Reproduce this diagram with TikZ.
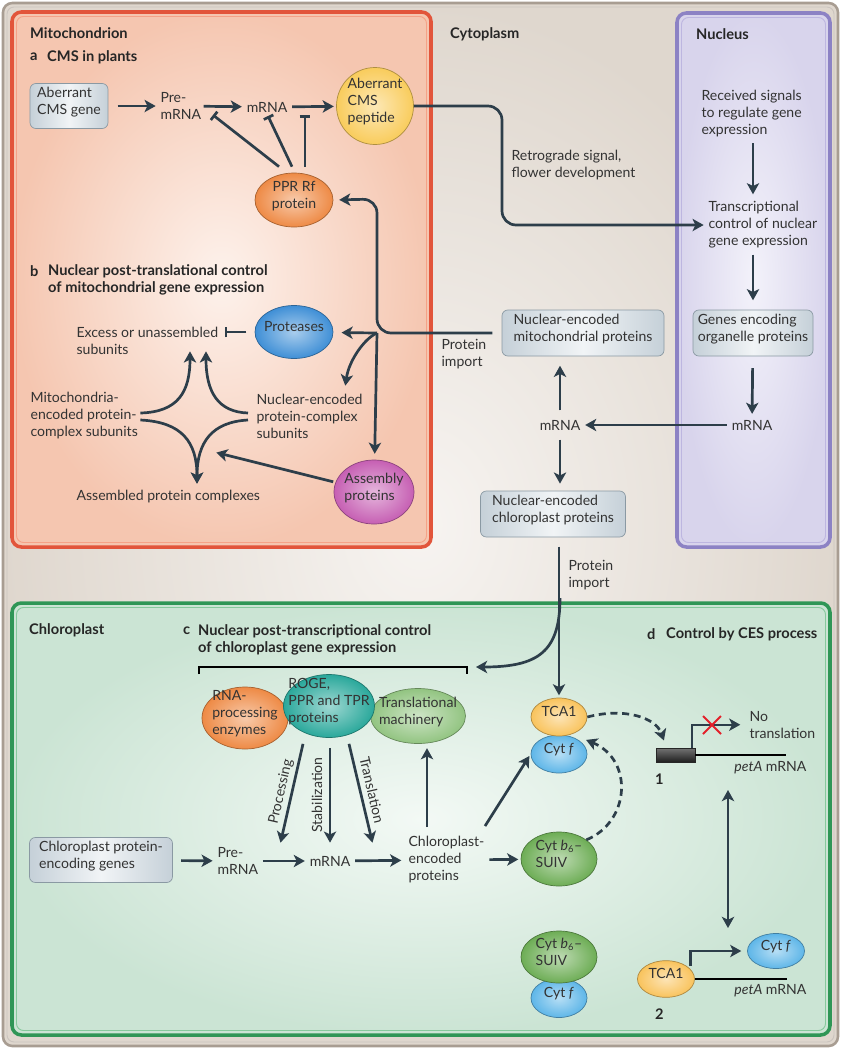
\documentclass[tikz,border=0pt]{standalone}
\usepackage{fontspec}
\setmainfont{Lato}
\usetikzlibrary{arrows.meta,shapes.geometric,calc}
\definecolor{txt}{HTML}{333333}
\definecolor{arrc}{HTML}{2D3E4A}
\definecolor{cytoin}{HTML}{F7F4F1}
\definecolor{cytoout}{HTML}{DFD7CE}
\definecolor{cytob}{HTML}{A89D92}
\definecolor{mitoin}{HTML}{FDF2EC}
\definecolor{mitoout}{HTML}{F5C6B0}
\definecolor{mitob}{HTML}{E2553B}
\definecolor{mitol}{HTML}{F5A287}
\definecolor{nucin}{HTML}{F3F2FA}
\definecolor{nucout}{HTML}{D8D4EC}
\definecolor{nucb}{HTML}{8C82C4}
\definecolor{nucl}{HTML}{BDB6E0}
\definecolor{chlin}{HTML}{F3F9F5}
\definecolor{chlout}{HTML}{CBE4D4}
\definecolor{chlb}{HTML}{2F9656}
\definecolor{chll}{HTML}{86C99C}
\definecolor{boxc}{HTML}{C5D0D8}
\definecolor{boxl}{HTML}{F1F4F6}
\definecolor{boxb}{HTML}{8A99A3}
\definecolor{pepc}{HTML}{F9CC5C}
\definecolor{pprc}{HTML}{EE8A45}
\definecolor{protc}{HTML}{3F8FD6}
\definecolor{asmc}{HTML}{C65FB3}
\definecolor{rnac}{HTML}{EE8A45}
\definecolor{rogec}{HTML}{2AA89B}
\definecolor{trmc}{HTML}{92C481}
\definecolor{tcac}{HTML}{F9C35C}
\definecolor{cytfc}{HTML}{5EB6E8}
\definecolor{b6c}{HTML}{6DAD55}
\definecolor{xred}{HTML}{E3202A}
\newcommand\ctext[1]{\makebox[0pt]{\smash{\begin{tabular}{@{}l@{}}#1\end{tabular}}}}
\newcommand\cctext[1]{\makebox[0pt]{\smash{\begin{tabular}{@{}c@{}}#1\end{tabular}}}}
\tikzset{
 arr/.style={draw=arrc, line width=2.3pt, -{Stealth[length=9.5pt,width=10.5pt,inset=2.5pt]}, shorten >=2pt},
 inh/.style={draw=arrc, line width=2.3pt, -{Bar[width=9pt,line width=2.3pt]}},
 dbl/.style={draw=arrc, line width=2.3pt, {Stealth[length=9.5pt,width=10.5pt,inset=2.5pt]}-{Stealth[length=9.5pt,width=10.5pt,inset=2.5pt]}},
 dsh/.style={arr, dash pattern=on 6pt off 4pt},
 gbox/.style={draw=boxb, line width=0.6pt, rounded corners=5pt, left color=boxc, right color=boxc, middle color=boxl, inner sep=0pt, text=txt},
 blob/.style={ellipse, draw=#1!70!black, line width=0.6pt, inner sep=0pt, inner color=#1!45!white, outer color=#1, text=txt},
 lbl/.style={align=left, inner sep=2pt, text=txt},
 ttl/.style={font=\fontsize{12.5}{15}\selectfont\bfseries, inner sep=0pt, anchor=west, text=black!85},
}
\begin{document}
\begin{tikzpicture}[x=0.03cm,y=-0.03cm,font=\fontsize{12}{14.5}\selectfont]
\useasboundingbox (0,0) rectangle (843,1050);
\fill[white] (0,0) rectangle (843,1050);
% cytoplasm
\shade[rounded corners=8pt, inner color=cytoin, outer color=cytoout] (3,3) rectangle (838,1046);
\draw[cytob, line width=2.2pt, rounded corners=8pt] (3,3) rectangle (838,1046);
\draw[cytob!60, line width=0.8pt, rounded corners=6pt] (7,7) rectangle (834,1042);
% mitochondrion
\shade[rounded corners=8pt, inner color=mitoin, outer color=mitoout] (12,12) rectangle (431,547);
\draw[mitob, line width=3pt, rounded corners=8pt] (12,12) rectangle (431,547);
\draw[mitol, line width=0.8pt, rounded corners=6pt] (16.5,16.5) rectangle (426.5,542.5);
% nucleus
\shade[rounded corners=8pt, inner color=nucin, outer color=nucout] (677,13) rectangle (830,547);
\draw[nucb, line width=3pt, rounded corners=8pt] (677,13) rectangle (830,547);
\draw[nucl, line width=0.8pt, rounded corners=6pt] (681.5,17.5) rectangle (825.5,542.5);
% chloroplast
\shade[rounded corners=8pt, inner color=chlin, outer color=chlout] (12,603) rectangle (830,1035);
\draw[chlb, line width=3pt, rounded corners=8pt] (12,603) rectangle (830,1035);
\draw[chll, line width=0.8pt, rounded corners=6pt] (16.5,607.5) rectangle (825.5,1030.5);

% titles
\node[ttl] (tmito) at (30,33) {Mitochondrion};
\node[ttl] (ta) at (30,57) {a};
\node[ttl] (tat) at (47,57) {CMS in plants};
\node[ttl] (tcyto) at (450,34) {Cytoplasm};
\node[ttl] (tnuc) at (696,34) {Nucleus};
\node[ttl] (tb) at (30,271) {b};
\node[ttl, align=left] (tbt) at (48,280) {Nuclear post-translational control\\of mitochondrial gene expression};
\node[ttl] (tchl) at (29,630) {Chloroplast};
\node[ttl] (tc) at (183,631) {c};
\node[ttl, align=left] (tct) at (198,640) {Nuclear post-transcriptional control\\of chloroplast gene expression};
\node[ttl] (td) at (647,634) {d};
\node[ttl] (tdt) at (666,634) {Control by CES process};

% part a
\node[gbox, minimum width=2.34cm, minimum height=1.35cm] (acms) at (69,106) {\ctext{Aberrant\\CMS gene}};
\node[lbl, anchor=west] (pre1) at (158,106) {Pre-\\mRNA};
\node[lbl] (mrna1) at (267,107) {mRNA};
\node[blob=pepc, minimum width=2.31cm, minimum height=2.31cm] (pep) at (375,106) {\ctext{Aberrant\\CMS\\peptide}};
\node[blob=pprc, minimum width=2.34cm, minimum height=1.62cm] (ppr) at (294,200) {\cctext{PPR Rf\\protein}};
\draw[arr, shorten <=8pt] (acms) -- (pre1);
\draw[arr] (pre1) -- (mrna1);
\draw[arr, shorten <=2pt] (mrna1) -- (pep);
\coordinate (i1) at (213,115);
\coordinate (i2) at (268,116);
\coordinate (i3) at (305,115);
\draw[inh] ($(ppr.north)+(-15,-6)$) -- (i1);
\draw[inh] ($(ppr.north)+(-2,-6)$) -- (i2);
\draw[inh] ($(ppr.north)+(11,-6)$) -- (i3);

% retrograde
\node[lbl, anchor=west] (retro) at (509,165) {Retrograde signal,\\flower development};
\node[lbl, anchor=west] (recv) at (699,114) {Received signals\\to regulate gene\\expression};
\node[lbl, anchor=west] (trans) at (706,225) {Transcriptional\\control of nuclear\\gene expression};
\draw[arr, rounded corners=12pt] (pep) -- (502,106) -- (502,225) -- (trans.west);

% nucleus
\node[gbox, minimum width=3.6cm, minimum height=1.38cm] (genes) at (753,333) {\ctext{Genes encoding\\organelle proteins}};
\node[lbl] (mrnan) at (752,425) {mRNA};
\draw[arr, shorten <=3pt, shorten >=4pt] (recv.south -| genes) -- (trans.north -| genes);
\draw[arr, shorten <=3pt, shorten >=8pt] (trans.south -| genes) -- (genes);
\draw[arr, shorten <=10pt, shorten >=3pt] (genes) -- (mrnan);

% cytoplasm
\node[gbox, minimum width=4.86cm, minimum height=1.38cm] (nemp) at (583,333) {\ctext{Nuclear-encoded\\mitochondrial proteins}};
\node[lbl] (mrnac) at (560,425) {mRNA};
\node[gbox, minimum width=4.35cm, minimum height=1.38cm] (ncp) at (553,514) {\ctext{Nuclear-encoded\\chloroplast proteins}};
\node[lbl, anchor=west] (pimp1) at (439,354) {Protein\\import};
\node[lbl, anchor=west] (pimp2) at (566,575) {Protein\\import};
\draw[arr, shorten <=2pt] (mrnan) -- (mrnac);
\draw[arr, shorten <=6pt, shorten >=8pt] (mrnac) -- (mrnac |- nemp.south);
\draw[arr, shorten <=6pt, shorten >=6pt] (mrnac) -- (mrnac |- ncp.north);

% part b
\node[blob=protc, minimum width=2.34cm, minimum height=1.59cm] (prot) at (294,332) {\ctext{Proteases}};
\node[blob=asmc, minimum width=2.4cm, minimum height=1.92cm] (asm) at (374,492) {\ctext{Assembly\\proteins}};
\node[lbl, anchor=west] (excess) at (74,341) {Excess or unassembled\\subunits};
\node[lbl, anchor=west] (mitoenc) at (28,416) {Mitochondria-\\encoded protein-\\complex subunits};
\node[lbl, anchor=west] (nucenc) at (254,416) {Nuclear-encoded\\protein-complex\\subunits};
\node[lbl, anchor=west] (assembled) at (74,497) {Assembled protein complexes};
\coordinate (jn) at (377,333);
\coordinate (je) at (345,388);
\draw[arr, rounded corners=12pt, shorten <=8pt, shorten >=5pt] (nemp) -- (jn) -- (377,199) -- (ppr.east);
\draw[arr, shorten >=7pt] (jn) -- (prot);
\draw[arr] (jn) .. controls (365,338) and (349,360) .. (je);
\draw[arr, shorten >=5pt] (jn) -- (asm);
\draw[inh, shorten <=7pt] (prot.west) -- ($(excess.east |- prot.west)+(4,0)$);
\coordinate (u1) at (190,349);
\coordinate (u2) at (206,349);
\coordinate (dn) at (197,486);
\coordinate (asmt) at (214,452);
\draw[arr] ($(mitoenc.east)+(0,-3)$) .. controls (178,412) and (190,392) .. (u1);
\draw[arr] ($(nucenc.west)+(-6,-3)$) .. controls (218,412) and (206,392) .. (u2);
\draw[arr] ($(mitoenc.east)+(0,4)$) .. controls (182,422) and (197,442) .. (dn);
\draw[arr] ($(nucenc.west)+(-6,4)$) .. controls (212,422) and (197,442) .. (dn);
\draw[arr, shorten <=2pt] (asm) -- (asmt);

% part c
\draw[black, line width=1pt] (199,674) -- (199,667) -- (467,667) -- (467,674);
\node[blob=rnac, minimum width=2.58cm, minimum height=1.86cm] (rna) at (245,718) {\ctext{RNA-\\processing\\enzymes}};
\node[blob=trmc, minimum width=2.85cm, minimum height=1.65cm] (trm) at (418,716) {\ctext{Translational\\machinery}};
\node[blob=rogec, minimum width=2.73cm, minimum height=1.89cm] (roge) at (329,706) {\ctext{ROGE,\\PPR and TPR\\proteins}};
\node[gbox, minimum width=4.29cm, minimum height=1.35cm] (cpeg) at (101,860) {\ctext{Chloroplast protein-\\encoding genes}};
\node[lbl, anchor=west] (pre2) at (215,861) {Pre-\\mRNA};
\node[lbl] (mrna2) at (330,861) {mRNA};
\node[lbl, anchor=west] (cpe) at (406,860) {Chloroplast-\\encoded\\proteins};
\draw[arr, shorten <=7pt] (cpeg) -- (pre2);
\draw[arr, shorten <=2pt] (pre2) -- (mrna2);
\draw[arr, shorten <=2pt, shorten >=4pt] (mrna2) -- (cpe);
\coordinate (pe) at (280,845);
\coordinate (se) at (330,845);
\coordinate (te) at (373,845);
\draw[arr] ($(roge.south)+(-26,6)$) -- (pe);
\draw[arr] ($(roge.south)+(1,10)$) -- (se);
\draw[arr] ($(roge.south)+(20,6)$) -- (te);
\node[lbl, rotate=77, inner sep=0pt] (lproc) at (281,792) {Processing};
\node[lbl, rotate=90, inner sep=0pt] (lstab) at (317,795) {Stabilization};
\node[lbl, rotate=-77, inner sep=0pt] (ltrl) at (372,790) {Translation};
\draw[arr] (427,827) -- ($(trm.south)+(9,2)$);

% TCA1 / Cyt f complexes
\node[blob=cytfc, minimum width=1.68cm, minimum height=1.14cm] (cytf) at (559,754) {\ctext{Cyt \textit{f}}};
\node[blob=tcac, minimum width=1.68cm, minimum height=1.14cm] (tca1) at (559,717) {\ctext{TCA1}};
\node[blob=b6c, minimum width=2.28cm, minimum height=1.62cm] (b6) at (559,859) {\ctext{Cyt \textit{b}\textsubscript{6}–\\SUIV}};
\node[blob=cytfc, minimum width=1.68cm, minimum height=1.17cm] (cytfb) at (559,998) {\ctext{Cyt \textit{f}}};
\node[blob=b6c, minimum width=2.28cm, minimum height=1.56cm] (b6b) at (559,957) {\ctext{Cyt \textit{b}\textsubscript{6}–\\SUIV}};
\draw[arr, shorten <=2pt] (cpe) -- (b6);
\draw[arr] ($(cpe.north east)+(-2,-8)$) -- (cytf.west);
\coordinate (ci) at (560,598);
\coordinate (brk) at (476,667);
\draw[arr, shorten <=8pt] (tca1.north |- ncp.south) -- (tca1);
\draw[arr, shorten >=0pt] (ci) .. controls (560,652) and (538,667) .. (brk);

% part d
\node[rectangle, draw=black!85, line width=0.5pt, top color=black!55, bottom color=black!88, minimum width=1.17cm, minimum height=0.42cm, inner sep=0pt] (g1) at (675.5,755) {};
\coordinate (m1) at (786,755);
\draw[black, line width=1.3pt] (g1.east) -- (m1);
\draw[arr, line width=2pt, shorten >=0pt] ($(g1.north east)+(-3,0)$) -- ++(0,-23) -- ++(48,0);
\coordinate (xc) at (712,725);
\draw[xred, line width=1.6pt] ($(xc)+(-9,-9)$) -- ($(xc)+(9,9)$);
\draw[xred, line width=1.6pt] ($(xc)+(9,-9)$) -- ($(xc)+(-9,9)$);
\node[lbl, anchor=west] (nott) at (747,725) {No\\translation};
\node[lbl, anchor=east] (peta1) at (809,768) {\textit{petA} mRNA};
\node[ttl] (n1) at (655,779) {1};
\draw[dsh] (tca1.east) .. controls (625,707) and (656,718) .. ($(g1.north west)+(9,-5)$);
\draw[dsh] (b6.35) .. controls (630,822) and (634,760) .. ($(cytf.40)+(7,0)$);
\coordinate (d1) at (728,790);
\coordinate (d2) at (728,928);
\draw[dbl] (d1) -- (d2);
\node[blob=tcac, minimum width=1.71cm, minimum height=1.1cm] (tca1b) at (666,979) {\ctext{TCA1}};
\node[blob=cytfc, minimum width=1.71cm, minimum height=1.05cm] (cytfr) at (776,951) {\ctext{Cyt \textit{f}}};
\draw[black, line width=1.3pt] (tca1b.east) -- ++(92,0);
\draw[arr, line width=2pt, shorten >=5pt] ($(tca1b.north east)+(4,0)$) -- ($(tca1b.north east |- cytfr.west)+(4,0)$) -- (cytfr.west);
\node[lbl, anchor=east] (peta2) at (809,991) {\textit{petA} mRNA};
\node[ttl] (n2) at (655,1014) {2};
\end{tikzpicture}
\end{document}
